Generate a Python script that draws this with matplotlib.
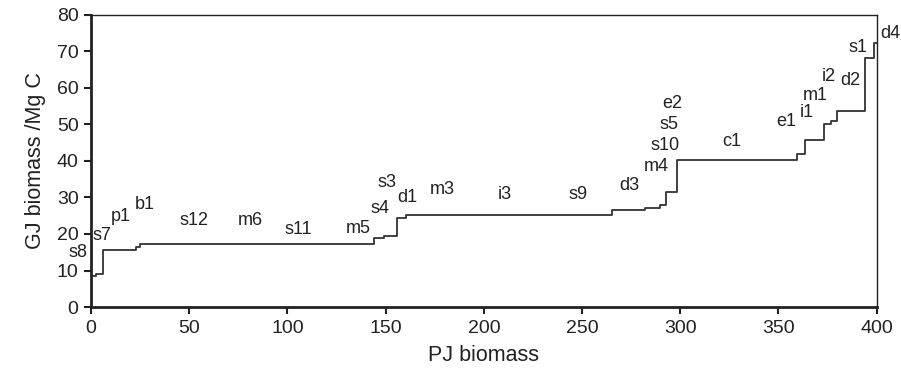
import matplotlib.pyplot as plt

plt.rcParams['font.family'] = ['Liberation Sans', 'DejaVu Sans']

# step edges (PJ biomass) and cost level (GJ biomass / Mg C)
pj_edges = [0, 2.4, 6.3, 23, 25, 144.2, 149.3, 155.6, 160.6, 265, 282, 289.6,
            292.6, 298.4, 359.6, 363.7, 373.2, 376.9, 380, 394.3, 398.6, 400]
gj_levels = [8.6, 9.0, 15.6, 16.5, 17.2, 18.8, 19.5, 24.5, 25.2, 26.5, 27.1, 27.8,
             31.6, 40.2, 41.8, 45.8, 50.1, 50.8, 53.7, 68.1, 72.3, 72.3]

# step labels and where they sit
lab_text = ['s8', 's7', 'p1', 'b1', 's12', 'm6', 's11', 'm5', 's3', 's4', 'd1',
            'm3', 'i3', 's9', 'd3', 'm4', 's10', 's5', 'e2', 'c1', 'e1', 'i1',
            'm1', 'i2', 'd2', 's1', 'd4']
lab_x = [-6.6, 5.6, 15.3, 27.5, 52.4, 80.9, 105.3, 135.9, 150.6, 147.1, 160.8,
         179.1, 210.7, 247.8, 274.3, 288, 292.1, 294.1, 295.7, 326.2, 354.0, 364.6,
         369.0, 375.6, 386.5, 390.7, 406.8]
lab_y = [14.8, 19.7, 24.9, 28.2, 23.6, 23.6, 21.1, 21.4, 34.0, 27.1, 29.9,
         32.1, 30.7, 30.7, 33.4, 38.6, 44.1, 49.9, 55.6, 45.2, 50.8, 53.3,
         57.9, 63.0, 62.1, 71.0, 74.9]

fig = plt.figure(figsize=(9.01, 3.80), dpi=100)
ax = fig.add_axes([0.101, 0.192, 0.872, 0.769])

ax.plot(pj_edges, gj_levels, drawstyle='steps-post', color='#333333', lw=1.3)

for t, x, y in zip(lab_text, lab_x, lab_y):
    ax.text(x, y, t, ha='center', va='center', fontsize=13, color='#222222',
            clip_on=False)

ax.set_xlim(0, 400)
ax.set_ylim(0, 80)
ax.set_xticks(range(0, 401, 50))
ax.set_yticks(range(0, 81, 10))
ax.tick_params(labelsize=14, direction='out', length=5, width=1.5, pad=4,
               colors='#222222')
ax.spines['left'].set_linewidth(2)
ax.spines['bottom'].set_linewidth(2)
ax.spines['top'].set_linewidth(1)
ax.spines['right'].set_linewidth(1)
for s in ax.spines.values():
    s.set_color('#222222')

ax.set_xlabel('PJ biomass', fontsize=15.5, color='#222222', labelpad=6)
ax.set_ylabel('GJ biomass /Mg C', fontsize=15.5, color='#222222', labelpad=8)

fig.savefig('out.png', dpi=100)
